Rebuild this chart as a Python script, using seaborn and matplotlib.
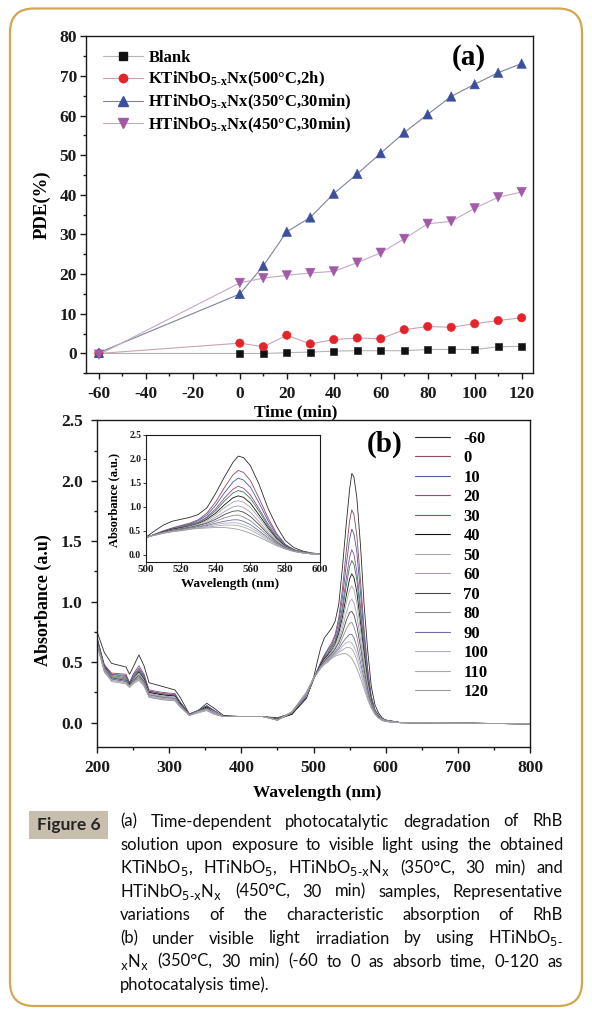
import matplotlib
matplotlib.use("Agg")
import matplotlib.pyplot as plt
import numpy as np
import pandas as pd
import seaborn as sns
from matplotlib.lines import Line2D
from matplotlib.patches import FancyBboxPatch, Rectangle
from matplotlib.ticker import MultipleLocator, FormatStrFormatter
from matplotlib.transforms import IdentityTransform

# ------------------------------------------
# panel (a): photodegradation efficiency vs time
# ------------------------------------------
time_min = [-60, 0, 10, 20, 30, 40, 50, 60, 70, 80, 90, 100, 110, 120]
pde_blank = [0.0, 0.0, 0.0, 0.2, 0.35, 0.6, 0.7, 0.7, 0.7, 1.0, 1.0, 1.0, 1.7, 1.8]
pde_k500 = [0.0, 2.6, 1.7, 4.6, 2.4, 3.5, 3.9, 3.7, 6.0, 6.8, 6.6, 7.5, 8.3, 9.0]
pde_h350 = [0.2, 15.0, 22.1, 30.7, 34.3, 40.3, 45.3, 50.5, 55.7, 60.3, 64.8, 67.9, 70.8, 73.1]
pde_h450 = [-0.3, 17.8, 19.0, 19.7, 20.3, 20.7, 22.9, 25.4, 28.9, 32.7, 33.3, 36.6, 39.4, 40.7]

samples = ["Blank", "K500", "H350", "H450"]
sample_labels = [
    "Blank",
    r"KTiNbO$_{5\text{-}x}$Nx(500°C,2h)",
    r"HTiNbO$_{5\text{-}x}$Nx(350°C,30min)",
    r"HTiNbO$_{5\text{-}x}$Nx(450°C,30min)",
]
marker_colors = ["#111111", "#e5232b", "#3c4f9b", "#a35aa6"]
line_colors = ["#b4b4b4", "#c9a3b3", "#7d8499", "#c2a9c8"]
marker_shapes = ["s", "o", "^", "v"]
marker_area = [26, 36, 46, 46]

# ------------------------------------------
# panel (b): RhB absorption spectra, -60 ... 120 min
# ------------------------------------------
wavelength = [200, 210, 220, 240, 245, 250, 258, 265, 272, 290, 308, 315, 328, 340, 352, 362, 375, 400, 430, 450, 470, 490,
              500, 505, 510, 515, 520, 525, 530, 535, 540, 545, 550, 553, 556, 560, 565, 570, 575, 580, 585, 590, 595, 600,
              620, 800]

abs_m60 = [0.75, 0.58, 0.49, 0.46, 0.40, 0.46, 0.56, 0.47, 0.33, 0.30, 0.27, 0.21, 0.07, 0.10, 0.16, 0.12, 0.06, 0.05, 0.05, 0.04, 0.08, 0.22,
           0.37, 0.50, 0.62, 0.70, 0.74, 0.78, 0.84, 0.98, 1.28, 1.62, 1.93, 2.06, 2.03, 1.86, 1.47, 0.98, 0.60, 0.30, 0.15, 0.08, 0.04, 0.02,
           0.00, -0.01]
abs_0 = [0.70, 0.48, 0.41, 0.40, 0.33, 0.40, 0.47, 0.40, 0.27, 0.25, 0.24, 0.17, 0.07, 0.10, 0.14, 0.10, 0.05, 0.05, 0.05, 0.03, 0.07, 0.20,
         0.36, 0.43, 0.50, 0.56, 0.61, 0.66, 0.73, 0.87, 1.10, 1.40, 1.67, 1.76, 1.72, 1.55, 1.18, 0.78, 0.45, 0.22, 0.11, 0.06, 0.03, 0.02,
         0.00, -0.01]
abs_10 = [0.70, 0.47, 0.40, 0.39, 0.33, 0.39, 0.45, 0.39, 0.26, 0.24, 0.23, 0.17, 0.07, 0.10, 0.14, 0.10, 0.05, 0.05, 0.05, 0.03, 0.07, 0.20,
          0.36, 0.43, 0.49, 0.55, 0.60, 0.64, 0.71, 0.83, 1.03, 1.29, 1.52, 1.60, 1.56, 1.41, 1.08, 0.72, 0.42, 0.21, 0.10, 0.06, 0.03, 0.02,
          0.00, -0.01]
abs_20 = [0.69, 0.47, 0.40, 0.38, 0.32, 0.38, 0.44, 0.38, 0.26, 0.24, 0.23, 0.16, 0.07, 0.10, 0.13, 0.10, 0.05, 0.05, 0.05, 0.03, 0.07, 0.21,
          0.36, 0.42, 0.49, 0.54, 0.58, 0.63, 0.68, 0.79, 0.96, 1.18, 1.37, 1.43, 1.39, 1.25, 0.96, 0.65, 0.38, 0.19, 0.10, 0.05, 0.03, 0.02,
          0.00, -0.01]
abs_30 = [0.69, 0.46, 0.39, 0.37, 0.32, 0.37, 0.43, 0.37, 0.25, 0.23, 0.22, 0.16, 0.06, 0.10, 0.13, 0.09, 0.05, 0.05, 0.05, 0.03, 0.07, 0.21,
          0.36, 0.42, 0.48, 0.53, 0.57, 0.62, 0.67, 0.77, 0.92, 1.12, 1.29, 1.34, 1.31, 1.18, 0.91, 0.61, 0.36, 0.19, 0.10, 0.05, 0.03, 0.02,
          0.00, -0.01]
abs_40 = [0.68, 0.46, 0.38, 0.36, 0.32, 0.36, 0.42, 0.36, 0.25, 0.23, 0.22, 0.16, 0.06, 0.09, 0.13, 0.09, 0.05, 0.05, 0.05, 0.03, 0.07, 0.21,
          0.36, 0.42, 0.48, 0.53, 0.56, 0.60, 0.65, 0.74, 0.87, 1.04, 1.19, 1.23, 1.20, 1.08, 0.83, 0.57, 0.34, 0.18, 0.09, 0.05, 0.03, 0.02,
          0.00, -0.01]
abs_50 = [0.68, 0.45, 0.38, 0.36, 0.31, 0.36, 0.41, 0.35, 0.24, 0.22, 0.21, 0.15, 0.06, 0.09, 0.12, 0.09, 0.05, 0.05, 0.05, 0.03, 0.08, 0.22,
          0.36, 0.42, 0.47, 0.52, 0.55, 0.59, 0.64, 0.71, 0.83, 0.98, 1.10, 1.13, 1.10, 0.99, 0.77, 0.53, 0.32, 0.17, 0.09, 0.05, 0.03, 0.02,
          0.00, -0.01]
abs_60 = [0.67, 0.45, 0.37, 0.35, 0.31, 0.35, 0.40, 0.34, 0.24, 0.22, 0.21, 0.15, 0.06, 0.09, 0.12, 0.09, 0.05, 0.05, 0.05, 0.03, 0.08, 0.22,
          0.37, 0.42, 0.47, 0.51, 0.54, 0.58, 0.62, 0.68, 0.78, 0.90, 1.00, 1.02, 0.99, 0.89, 0.69, 0.48, 0.29, 0.16, 0.09, 0.05, 0.03, 0.01,
          0.00, -0.01]
abs_70 = [0.67, 0.44, 0.37, 0.35, 0.31, 0.35, 0.39, 0.34, 0.23, 0.21, 0.20, 0.15, 0.06, 0.09, 0.12, 0.08, 0.05, 0.05, 0.05, 0.03, 0.08, 0.23,
          0.37, 0.42, 0.47, 0.51, 0.54, 0.57, 0.61, 0.66, 0.74, 0.84, 0.91, 0.92, 0.89, 0.80, 0.63, 0.44, 0.27, 0.15, 0.08, 0.05, 0.02, 0.01,
          0.00, -0.01]
abs_80 = [0.66, 0.44, 0.36, 0.34, 0.30, 0.34, 0.38, 0.33, 0.23, 0.21, 0.20, 0.14, 0.06, 0.09, 0.11, 0.08, 0.05, 0.05, 0.05, 0.02, 0.08, 0.23,
          0.37, 0.41, 0.46, 0.50, 0.53, 0.56, 0.59, 0.63, 0.70, 0.77, 0.82, 0.83, 0.79, 0.71, 0.56, 0.40, 0.25, 0.14, 0.08, 0.04, 0.02, 0.01,
          0.00, -0.01]
abs_90 = [0.66, 0.43, 0.36, 0.34, 0.30, 0.34, 0.37, 0.32, 0.22, 0.20, 0.19, 0.14, 0.06, 0.09, 0.11, 0.08, 0.05, 0.05, 0.05, 0.02, 0.09, 0.24,
          0.37, 0.41, 0.46, 0.49, 0.52, 0.55, 0.58, 0.61, 0.66, 0.70, 0.73, 0.73, 0.70, 0.63, 0.50, 0.36, 0.23, 0.14, 0.08, 0.04, 0.02, 0.01,
          0.00, -0.01]
abs_100 = [0.65, 0.43, 0.35, 0.33, 0.30, 0.33, 0.36, 0.31, 0.22, 0.20, 0.19, 0.14, 0.06, 0.09, 0.11, 0.08, 0.05, 0.05, 0.05, 0.02, 0.09, 0.24,
           0.37, 0.41, 0.46, 0.49, 0.51, 0.54, 0.57, 0.59, 0.63, 0.66, 0.67, 0.66, 0.63, 0.57, 0.46, 0.34, 0.22, 0.13, 0.07, 0.04, 0.02, 0.01,
           0.00, -0.01]
abs_110 = [0.65, 0.42, 0.35, 0.33, 0.30, 0.33, 0.36, 0.31, 0.21, 0.19, 0.18, 0.13, 0.06, 0.09, 0.10, 0.07, 0.05, 0.05, 0.05, 0.02, 0.09, 0.25,
           0.37, 0.41, 0.45, 0.49, 0.51, 0.54, 0.56, 0.58, 0.60, 0.62, 0.62, 0.61, 0.58, 0.52, 0.42, 0.31, 0.21, 0.13, 0.07, 0.04, 0.02, 0.01,
           0.00, -0.01]
abs_120 = [0.64, 0.42, 0.34, 0.32, 0.29, 0.32, 0.35, 0.30, 0.21, 0.19, 0.18, 0.13, 0.06, 0.08, 0.10, 0.07, 0.05, 0.05, 0.05, 0.02, 0.09, 0.25,
           0.37, 0.41, 0.45, 0.48, 0.50, 0.53, 0.55, 0.56, 0.57, 0.57, 0.55, 0.53, 0.50, 0.45, 0.37, 0.28, 0.19, 0.12, 0.07, 0.04, 0.02, 0.01,
           0.00, -0.01]

time_labels = ["-60", "0", "10", "20", "30", "40", "50", "60", "70", "80", "90", "100", "110", "120"]
spectra = [abs_m60, abs_0, abs_10, abs_20, abs_30, abs_40, abs_50, abs_60, abs_70, abs_80, abs_90, abs_100, abs_110, abs_120]
spec_colors = ["#2a2a2a", "#8c4a5a", "#4a5aa8", "#8e4e8e", "#3e7a52", "#141414", "#a8a8a8",
               "#a89cb6", "#4c4c4c", "#8c8c8c", "#6e6ea4", "#b0b0c0", "#a8a8a8", "#9c9c9c"]

caption_lines = [
    "(a) Time-dependent photocatalytic degradation of RhB",
    "solution upon exposure to visible light using the obtained",
    r"KTiNbO$_5$, HTiNbO$_5$, HTiNbO$_{5\text{-}\mathrm{x}}$N$_{\mathrm{x}}$ (350°C, 30 min) and",
    r"HTiNbO$_{5\text{-}\mathrm{x}}$N$_{\mathrm{x}}$ (450°C, 30 min) samples, Representative",
    "variations of the characteristic absorption of RhB",
    r"(b) under visible light irradiation by using HTiNbO$_{5\text{-}}$",
    r"$_{\mathrm{x}}$N$_{\mathrm{x}}$ (350°C, 30 min) (-60 to 0 as absorb time, 0-120 as",
    "photocatalysis time).",
]

# ------------------------------------------
# style
# ------------------------------------------
sns.set_style("ticks", {"axes.edgecolor": "#1a1a1a", "xtick.color": "#1a1a1a", "ytick.color": "#1a1a1a",
                        "text.color": "black", "axes.labelcolor": "black"})
plt.rcParams["font.family"] = ["Liberation Serif", "DejaVu Serif"]
plt.rcParams["font.weight"] = "normal"
plt.rcParams["axes.labelweight"] = "bold"
plt.rcParams["axes.unicode_minus"] = False
plt.rcParams["axes.linewidth"] = 1.0
plt.rcParams["mathtext.fontset"] = "custom"
plt.rcParams["mathtext.rm"] = "Liberation Serif:bold"
plt.rcParams["mathtext.it"] = "Liberation Serif:bold"
plt.rcParams["mathtext.bf"] = "Liberation Serif:bold"
plt.rcParams["mathtext.default"] = "rm"

W, H = 592, 1015
fig = plt.figure(figsize=(W / 100, H / 100), dpi=100)
fig.patch.set_facecolor("white")


def fx(px):
    return px / W


def fy(py):
    return 1 - py / H


def bold_ticks(ax):
    plt.setp(ax.get_xticklabels() + ax.get_yticklabels(), fontweight="bold")


ax_a = fig.add_axes([fx(86), fy(373.3), (533.4 - 86) / W, (373.3 - 36.2) / H])
ax_b = fig.add_axes([fx(97.1), fy(746.8), (530 - 97.1) / W, (746.8 - 420.3) / H])
ax_in = fig.add_axes([fx(146), fy(562), 174 / W, 127 / H])

# ------------------------------------------
# panel (a)
# ------------------------------------------
series = [pde_blank, pde_k500, pde_h350, pde_h450]
df_a = pd.DataFrame({
    "Time": time_min * len(samples),
    "PDE": [v for s in series for v in s],
    "Sample": [name for name in samples for _ in time_min],
})

sns.lineplot(data=df_a, x="Time", y="PDE", hue="Sample", hue_order=samples,
             palette=dict(zip(samples, line_colors)), linewidth=0.8,
             estimator=None, legend=False, ax=ax_a)
sns.scatterplot(data=df_a, x="Time", y="PDE", hue="Sample", style="Sample", size="Sample",
                hue_order=samples, style_order=samples, size_order=samples,
                palette=dict(zip(samples, marker_colors)),
                markers=dict(zip(samples, marker_shapes)),
                sizes=dict(zip(samples, marker_area)),
                edgecolor="face", linewidth=0.4, legend=False, ax=ax_a, zorder=3)

ax_a.set_xlim(-65.5, 125)
ax_a.set_ylim(-5, 80)
ax_a.xaxis.set_major_locator(MultipleLocator(20))
ax_a.xaxis.set_minor_locator(MultipleLocator(10))
ax_a.yaxis.set_major_locator(MultipleLocator(10))
ax_a.yaxis.set_minor_locator(MultipleLocator(5))
ax_a.tick_params(which="both", direction="out", top=False, right=False, width=1.0)
ax_a.tick_params(which="major", length=4.5)
ax_a.tick_params(which="minor", length=2.5)
ax_a.tick_params(axis="x", pad=5, labelsize=12.5)
ax_a.tick_params(axis="y", pad=2, labelsize=12.5)
bold_ticks(ax_a)
ax_a.set_xlabel("Time (min)", fontsize=12.5)
ax_a.set_ylabel("PDE(%)", fontsize=13.5)
ax_a.xaxis.set_label_coords(0.468, -0.093)
ax_a.yaxis.set_label_coords(-0.078, 0.5)

handles_a = [Line2D([], [], color=lc, lw=0.8, marker=m, ms=ms, mfc=mc, mec=mc)
             for lc, m, ms, mc in zip(line_colors, marker_shapes, [5.2, 6.0, 6.8, 6.8], marker_colors)]
ax_a.legend(handles_a, sample_labels, loc="upper left", bbox_to_anchor=(0.024, 0.978),
            frameon=False, prop={"family": "Liberation Serif", "weight": "bold", "size": 12},
            handlelength=2.4, handletextpad=0.3, labelspacing=0.22, borderpad=0.4, borderaxespad=0)
ax_a.text(0.856, 0.937, "(a)", transform=ax_a.transAxes, ha="center", va="center",
          fontsize=21, fontweight="bold")

# ------------------------------------------
# panel (b) with inset
# ------------------------------------------
df_b = pd.DataFrame({
    "Wavelength": wavelength * len(time_labels),
    "Absorbance": [v for s in spectra for v in s],
    "Time": [t for t in time_labels for _ in wavelength],
})
pal_b = dict(zip(time_labels, spec_colors))

sns.lineplot(data=df_b, x="Wavelength", y="Absorbance", hue="Time", hue_order=time_labels,
             palette=pal_b, linewidth=0.6, estimator=None, legend=False, ax=ax_b)
ax_b.set_xlim(200, 800)
ax_b.set_ylim(-0.2, 2.5)
ax_b.xaxis.set_major_locator(MultipleLocator(100))
ax_b.xaxis.set_minor_locator(MultipleLocator(50))
ax_b.yaxis.set_major_locator(MultipleLocator(0.5))
ax_b.yaxis.set_minor_locator(MultipleLocator(0.25))
ax_b.yaxis.set_major_formatter(FormatStrFormatter("%.1f"))
ax_b.tick_params(which="both", direction="out", top=False, right=False, width=1.0)
ax_b.tick_params(which="major", length=4.5)
ax_b.tick_params(which="minor", length=2.5)
ax_b.tick_params(axis="x", pad=5, labelsize=12.5)
ax_b.tick_params(axis="y", pad=6, labelsize=12.5)
bold_ticks(ax_b)
ax_b.set_xlabel("Wavelength (nm)", fontsize=12.5)
ax_b.set_ylabel("Absorbance (a.u)", fontsize=13)
ax_b.xaxis.set_label_coords(0.509, -0.116)
ax_b.yaxis.set_label_coords(-0.105, 0.45)
ax_b.text(0.664, 0.926, "(b)", transform=ax_b.transAxes, ha="center", va="center",
          fontsize=21, fontweight="bold")

handles_b = [Line2D([], [], color=c, lw=0.8) for c in spec_colors]
leg_b = ax_b.legend(handles_b, time_labels, loc="upper left", bbox_to_anchor=(0.718, 0.989),
                    frameon=False, prop={"family": "Liberation Serif", "weight": "bold", "size": 12},
                    handlelength=2.15, handletextpad=-0.72, labelspacing=0.21, borderpad=0.4, borderaxespad=0)
renderer = fig.canvas.get_renderer()
shift = max(t.get_window_extent(renderer).width for t in leg_b.get_texts())
for t in leg_b.get_texts():
    t.set_ha("right")
    t.set_position((shift, 0))

sns.lineplot(data=df_b, x="Wavelength", y="Absorbance", hue="Time", hue_order=time_labels,
             palette=pal_b, linewidth=0.6, estimator=None, legend=False, ax=ax_in)
ax_in.set_xlim(500, 600)
ax_in.set_ylim(-0.15, 2.5)
ax_in.xaxis.set_major_locator(MultipleLocator(20))
ax_in.yaxis.set_major_locator(MultipleLocator(0.5))
ax_in.yaxis.set_major_formatter(FormatStrFormatter("%.1f"))
for sp in ax_in.spines.values():
    sp.set_linewidth(0.8)
ax_in.tick_params(which="both", direction="out", top=False, right=False, width=0.6, length=2)
ax_in.tick_params(axis="x", pad=0.5, labelsize=8)
ax_in.tick_params(axis="y", pad=1.5, labelsize=7)
bold_ticks(ax_in)
ax_in.set_xlabel("Wavelength (nm)", fontsize=9.5)
ax_in.set_ylabel("Absorbance (a.u.)", fontsize=9)
ax_in.xaxis.set_label_coords(0.483, -0.125)
ax_in.yaxis.set_label_coords(-0.15, 0.49)

# ------------------------------------------
# frame and caption
# ------------------------------------------
border = FancyBboxPatch((10, 9), 572, 997.5, boxstyle="round,pad=0,rounding_size=24",
                        fill=False, ec="#d3a750", lw=1.6, transform=IdentityTransform())
fig.add_artist(border)

fig.add_artist(Rectangle((fx(29), fy(839)), 79 / W, 28 / H, transform=fig.transFigure,
                         facecolor="#c8bead", edgecolor="none"))
fig.text(fx(68.5), fy(825), "Figure 6", family="Lato", fontweight="bold", fontsize=12.5,
         ha="center", va="center", color="#262626")

cap_x0, cap_x1 = 120, 563
probe = [fig.text(0, 0, s, family="Lato", fontsize=12, math_fontfamily="dejavusans")
         for s in caption_lines]
widest = max(t.get_window_extent(renderer).width for t in probe)
for t in probe:
    t.remove()
cap_size = 12 * min(1.0, (cap_x1 - cap_x0) / widest)

for i, line in enumerate(caption_lines):
    base_y = 826.5 + 23.4 * i
    words = line.split(" ")
    objs = [fig.text(0, fy(base_y), w, family="Lato", fontsize=cap_size,
                     color="#0d0d0d", ha="left", va="baseline", math_fontfamily="dejavusans")
            for w in words]
    widths = [o.get_window_extent(renderer).width for o in objs]
    if i < len(caption_lines) - 1:
        gap = (cap_x1 - cap_x0 - sum(widths)) / (len(objs) - 1)
    else:
        gap = cap_size * 100 / 72 * 0.24
    x = cap_x0
    for o, w in zip(objs, widths):
        o.set_x(fx(x))
        x += w + gap

fig.savefig("out.png", dpi=100)
